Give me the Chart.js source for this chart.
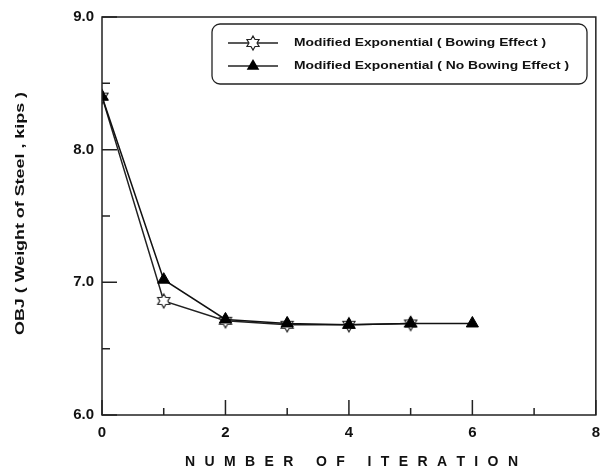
<!DOCTYPE html>
<html>
<head>
<meta charset="utf-8">
<script src="https://cdn.jsdelivr.net/npm/chart.js@4.4.1/dist/chart.umd.min.js"></script>
<style>
  html, body { margin: 0; padding: 0; background: #fff; }
  #wrap { width: 609px; height: 468px; }
</style>
</head>
<body>
<div id="wrap"><canvas id="objChart" width="609" height="468"></canvas></div>
<script>
// data
const iterBowing = [0, 1, 2, 3, 4, 5];
const objBowing = [8.40, 6.86, 6.71, 6.68, 6.68, 6.69];
const iterNoBowing = [0, 1, 2, 3, 4, 5, 6];
const objNoBowing = [8.40, 7.02, 6.72, 6.69, 6.68, 6.69, 6.69];
const xTicks = [0, 2, 4, 6, 8];
const xMinor = [1, 3, 5, 7];
const yTicks = [6, 7, 8, 9];
const yMinor = [6.5, 7.5, 8.5];
const legendLabels = [
    "Modified Exponential ( Bowing Effect )",
    "Modified Exponential ( No Bowing Effect )",
];
const xTitle = "NUMBER OF ITERATION";
const yTitle = "OBJ ( Weight of Steel , kips )";

const FONT = "Liberation Sans, Arial, sans-serif";

// open six pointed star marker
function makeStar(r) {
    const size = r * 2 + 4;
    const c = document.createElement("canvas");
    c.width = size;
    c.height = size;
    const ctx = c.getContext("2d");
    const cx = size / 2, cy = size / 2;
    ctx.beginPath();
    for (let i = 0; i < 12; i++) {
        const a = -Math.PI / 2 + (i * Math.PI) / 6;
        const rr = i % 2 === 0 ? r : r * 0.58;
        const px = cx + rr * Math.cos(a);
        const py = cy + rr * Math.sin(a);
        if (i === 0) ctx.moveTo(px, py);
        else ctx.lineTo(px, py);
    }
    ctx.closePath();
    ctx.fillStyle = "#fff";
    ctx.fill();
    ctx.lineWidth = 1.2;
    ctx.strokeStyle = "#222";
    ctx.stroke();
    return c;
}
const starImg = makeStar(7);

function toPoints(xs, ys) {
    return xs.map((x, i) => ({ x: x, y: ys[i] }));
}

// text squeezed/stretched to a given width (the original is wide-set)
function stretchText(ctx, text, x, y, width) {
    const w = ctx.measureText(text).width;
    ctx.save();
    ctx.translate(x, y);
    ctx.scale(width / w, 1);
    ctx.fillText(text, 0, 0);
    ctx.restore();
}

// box, inward ticks, axis titles and legend
const framePlugin = {
    id: "frame",
    afterDatasetsDraw(chart) {
        const { ctx, chartArea: a, scales } = chart;
        ctx.save();
        ctx.strokeStyle = "#222";
        ctx.lineWidth = 1.5;
        ctx.strokeRect(a.left, a.top, a.right - a.left, a.bottom - a.top);

        ctx.beginPath();
        xTicks.forEach((v) => {
            const px = scales.x.getPixelForValue(v);
            ctx.moveTo(px, a.bottom);
            ctx.lineTo(px, a.bottom - 15);
        });
        xMinor.forEach((v) => {
            const px = scales.x.getPixelForValue(v);
            ctx.moveTo(px, a.bottom);
            ctx.lineTo(px, a.bottom - 7);
        });
        yTicks.forEach((v) => {
            const py = scales.y.getPixelForValue(v);
            ctx.moveTo(a.left, py);
            ctx.lineTo(a.left + 15, py);
        });
        yMinor.forEach((v) => {
            const py = scales.y.getPixelForValue(v);
            ctx.moveTo(a.left, py);
            ctx.lineTo(a.left + 8, py);
        });
        ctx.stroke();

        // axis titles
        ctx.fillStyle = "#111";
        ctx.textBaseline = "middle";
        ctx.textAlign = "left";
        ctx.font = "bold 14px " + FONT;
        const xl = 185, xr = 518;
        const letters = xTitle.split("");
        const lw = letters.map((ch) => ctx.measureText(ch).width);
        const total = lw.reduce((s, w) => s + w, 0);
        const gap = (xr - xl - total) / (letters.length - 1);
        let cx = xl;
        letters.forEach((ch, i) => {
            ctx.fillText(ch, cx, 462);
            cx += lw[i] + gap;
        });

        ctx.font = "bold 13px " + FONT;
        ctx.save();
        ctx.translate(20, 335);
        ctx.rotate(-Math.PI / 2);
        stretchText(ctx, yTitle, 0, 0, 243);
        ctx.restore();

        // legend box
        const bx = 212, by = 24, bw = 375, bh = 60;
        ctx.lineWidth = 1.3;
        ctx.beginPath();
        ctx.roundRect(bx, by, bw, bh, 8);
        ctx.fillStyle = "#fff";
        ctx.fill();
        ctx.stroke();

        const rows = [43, 66];
        const textW = [252, 275];
        chart.data.datasets.forEach((ds, i) => {
            const y = rows[i];
            ctx.beginPath();
            ctx.lineWidth = 1.5;
            ctx.strokeStyle = "#222";
            ctx.moveTo(228, y);
            ctx.lineTo(278, y);
            ctx.stroke();
            if (ds.pointStyle === "triangle") {
                const r = 7;
                ctx.beginPath();
                ctx.moveTo(253, y - r);
                ctx.lineTo(253 + r * 0.9, y + r * 0.55);
                ctx.lineTo(253 - r * 0.9, y + r * 0.55);
                ctx.closePath();
                ctx.fillStyle = "#000";
                ctx.fill();
            } else {
                ctx.drawImage(starImg, 253 - starImg.width / 2, y - starImg.height / 2);
            }
            ctx.fillStyle = "#111";
            ctx.font = "bold 11px " + FONT;
            ctx.textBaseline = "middle";
            ctx.textAlign = "left";
            stretchText(ctx, legendLabels[i], 294, y, textW[i]);
        });
        ctx.restore();
    },
};

new Chart(document.getElementById("objChart"), {
    type: "line",
    data: {
        datasets: [
            {
                label: legendLabels[0],
                data: toPoints(iterBowing, objBowing),
                borderColor: "#222",
                borderWidth: 1.5,
                pointStyle: starImg,
                pointRadius: 7,
                tension: 0,
                order: 1,
            },
            {
                label: legendLabels[1],
                data: toPoints(iterNoBowing, objNoBowing),
                borderColor: "#111",
                backgroundColor: "#000",
                borderWidth: 1.5,
                pointStyle: "triangle",
                pointRadius: 7,
                pointBorderWidth: 1,
                pointBackgroundColor: "#000",
                pointBorderColor: "#000",
                tension: 0,
                order: 0,
            },
        ],
    },
    options: {
        responsive: false,
        animation: false,
        layout: { padding: { top: 12, right: 11, left: 4, bottom: 0 } },
        plugins: {
            legend: { display: false },
            tooltip: { enabled: false },
        },
        scales: {
            x: {
                type: "linear",
                min: 0,
                max: 8,
                afterBuildTicks: (s) => {
                    s.ticks = xTicks.map((v) => ({ value: v }));
                },
                afterFit: (s) => {
                    s.height = 53;
                },
                grid: { display: false, drawTicks: false },
                border: { display: false },
                ticks: {
                    padding: 9,
                    color: "#111",
                    font: { family: FONT, size: 15, weight: "bold" },
                    maxRotation: 0,
                },
            },
            y: {
                min: 6,
                max: 9,
                afterBuildTicks: (s) => {
                    s.ticks = yTicks.map((v) => ({ value: v }));
                },
                afterFit: (s) => {
                    s.width = 98;
                },
                grid: { display: false, drawTicks: false },
                border: { display: false },
                ticks: {
                    padding: 8,
                    color: "#111",
                    font: { family: FONT, size: 15, weight: "bold" },
                    callback: (v) => v.toFixed(1),
                },
            },
        },
    },
    plugins: [framePlugin],
});
</script>
</body>
</html>
